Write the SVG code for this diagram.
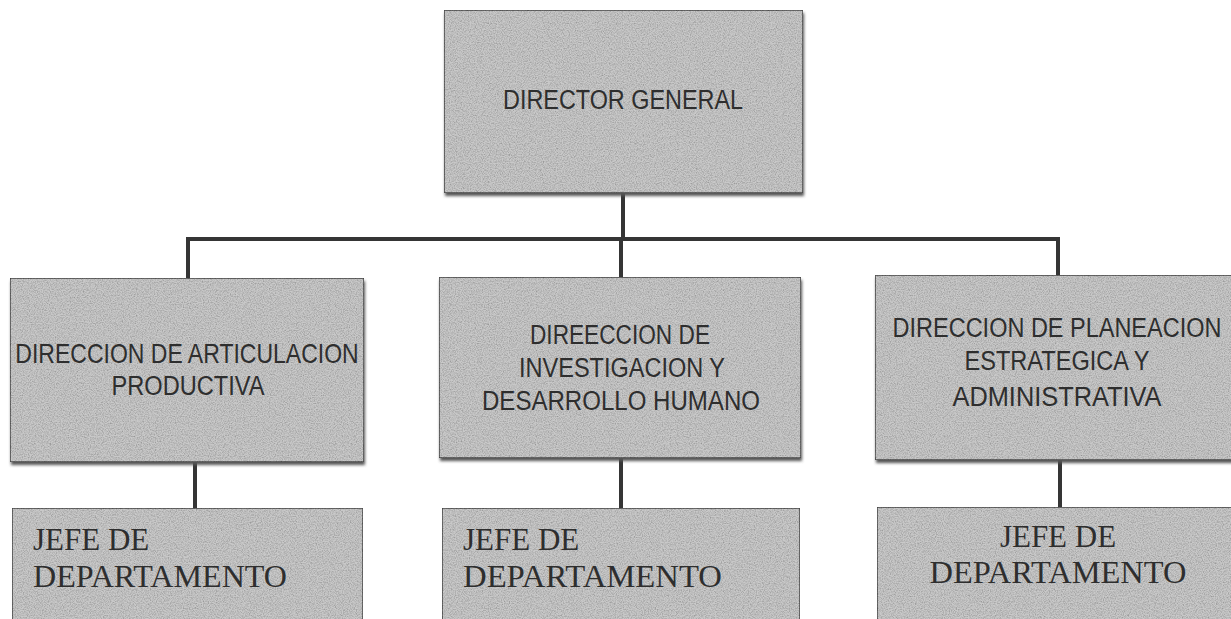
<svg xmlns="http://www.w3.org/2000/svg" width="1231" height="619" viewBox="0 0 1231 619">
<defs>
<filter id="grain" x="0" y="0" width="1" height="1">
<feTurbulence type="fractalNoise" baseFrequency="0.85" numOctaves="2" seed="7" result="n"/>
<feColorMatrix in="n" type="matrix" values="0 0 0 0 0  0 0 0 0 0  0 0 0 0 0  0.9 0 0 0 -0.32" result="a"/>
<feComposite in="a" in2="SourceGraphic" operator="in" result="b"/>
<feMerge><feMergeNode in="SourceGraphic"/><feMergeNode in="b"/></feMerge>
</filter>
<filter id="shadow" x="-5%" y="-5%" width="110%" height="120%">
<feGaussianBlur stdDeviation="1.6"/>
</filter>
</defs>
<style>
.box{fill:#c9c9c9;stroke:#4a4a4a;stroke-width:1.5;filter:url(#grain)}
.sh{fill:#555;filter:url(#shadow)}
.t{font-family:"Liberation Sans","Open Sans",sans-serif;font-size:27px;fill:#2e2e2e;text-anchor:middle}
.s{font-family:"Liberation Serif","DejaVu Serif",serif;font-size:31px;fill:#2e2e2e}
.c{stroke:#353535;stroke-width:4;fill:none;stroke-linecap:square}
</style>
<g id="connectors">
<path class="c" d="M623 193 V239"/>
<path class="c" d="M188 278 V239 H1058 V275"/>
<path class="c" d="M621 239 V277"/>
<path class="c" d="M195 462 V508"/>
<path class="c" d="M621 458 V508"/>
<path class="c" d="M1060 460 V507"/>
</g>
<g id="director-general">
<rect class="sh" x="445" y="13" width="359" height="183"/>
<rect class="box" x="444" y="10" width="359" height="183"/>
<text class="t" x="623" y="109" textLength="240" lengthAdjust="spacingAndGlyphs">DIRECTOR GENERAL</text>
</g>
<g id="dir-articulacion">
<rect class="sh" x="11" y="281" width="354" height="184"/>
<rect class="box" x="10" y="278" width="354" height="184"/>
<text class="t" transform="translate(187 363) scale(0.852 1)" x="0" y="0">DIRECCION DE ARTICULACION</text>
<text class="t" x="188" y="395" textLength="153" lengthAdjust="spacingAndGlyphs">PRODUCTIVA</text>
</g>
<g id="dir-investigacion">
<rect class="sh" x="440" y="280" width="362" height="181"/>
<rect class="box" x="439" y="277" width="362" height="181"/>
<text class="t" x="620" y="344" textLength="180" lengthAdjust="spacingAndGlyphs">DIREECCION DE</text>
<text class="t" x="622" y="377" textLength="206" lengthAdjust="spacingAndGlyphs">INVESTIGACION Y</text>
<text class="t" x="621" y="410" textLength="278" lengthAdjust="spacingAndGlyphs">DESARROLLO HUMANO</text>
</g>
<g id="dir-planeacion">
<rect class="sh" x="876" y="278" width="360" height="185"/>
<rect class="box" x="875" y="275" width="360" height="185"/>
<text class="t" transform="translate(1057 337) scale(0.87 1)" x="0" y="0">DIRECCION DE PLANEACION</text>
<text class="t" x="1057" y="370" textLength="185" lengthAdjust="spacingAndGlyphs">ESTRATEGICA Y</text>
<text class="t" x="1057" y="406" textLength="209" lengthAdjust="spacingAndGlyphs">ADMINISTRATIVA</text>
</g>
<g id="jefe-1">
<rect class="box" x="12" y="508" width="351" height="120"/>
<text class="s" x="33" y="550">JEFE DE</text>
<text class="s" x="33" y="587" textLength="254" lengthAdjust="spacingAndGlyphs">DEPARTAMENTO</text>
</g>
<g id="jefe-2">
<rect class="box" x="442" y="508" width="358" height="120"/>
<text class="s" x="463" y="550">JEFE DE</text>
<text class="s" x="463" y="587" textLength="259" lengthAdjust="spacingAndGlyphs">DEPARTAMENTO</text>
</g>
<g id="jefe-3">
<rect class="box" x="877" y="507" width="360" height="120"/>
<text class="s" x="1058" y="547" text-anchor="middle">JEFE DE</text>
<text class="s" x="1058" y="583" text-anchor="middle" textLength="257" lengthAdjust="spacingAndGlyphs">DEPARTAMENTO</text>
</g>
</svg>
